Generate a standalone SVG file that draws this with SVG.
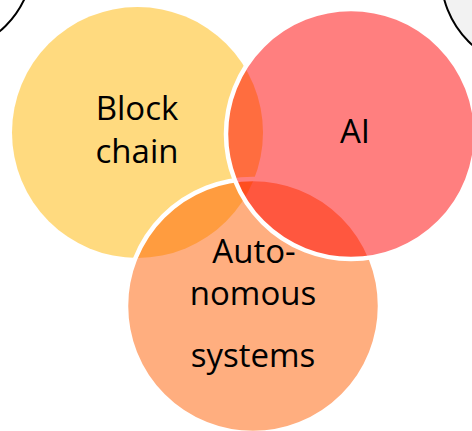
<svg xmlns="http://www.w3.org/2000/svg" width="472" height="431" viewBox="0 0 472 431">
  <style>
    .lbl { font-family: "Open Sans", "Noto Sans", "Liberation Sans", sans-serif; font-size: 33px; fill: #000000; text-anchor: middle; }
    .edge { stroke: #000000; stroke-width: 2; }
    .ring { stroke: #FFFFFF; stroke-width: 4.5; }
  </style>
  <rect x="0" y="0" width="472" height="431" fill="#FFFFFF"/>
  <g id="bg-left">
    <circle class="edge" cx="-60" cy="-40" r="93" fill="#FFFFFF"/>
  </g>
  <g id="bg-right">
    <circle class="edge" cx="535" cy="-25" r="94" fill="#F2F2F2"/>
  </g>
  <g id="connectors"></g>
  <g id="node-blockchain">
    <circle cx="137.5" cy="132.5" r="125.5" fill="#FFB500" fill-opacity="0.5"/>
    <text class="lbl" x="137" y="120">Block</text>
    <text class="lbl" x="137" y="163">chain</text>
  </g>
  <g id="node-autonomous">
    <circle class="ring" cx="253" cy="306" r="127" fill="#FF5D00" fill-opacity="0.5"/>
    <text class="lbl" x="254" y="263">Auto-</text>
    <text class="lbl" x="253" y="305">nomous</text>
    <text class="lbl" x="253" y="367">systems</text>
  </g>
  <g id="node-ai">
    <circle class="ring" cx="351" cy="134" r="125" fill="#FF0000" fill-opacity="0.5"/>
    <text class="lbl" x="355" y="143">AI</text>
  </g>
</svg>
